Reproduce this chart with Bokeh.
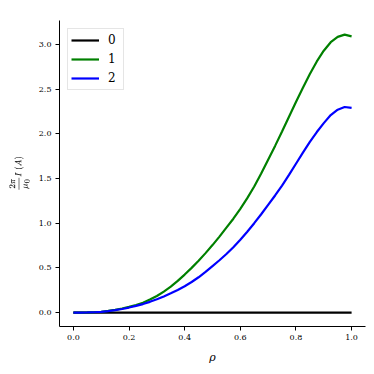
from bokeh.plotting import figure
from bokeh.models import Range1d, FixedTicker, Label, Legend, LegendItem
from bokeh.embed import file_html
from bokeh.resources import INLINE

rho = [0.0, 0.025, 0.05, 0.075, 0.1, 0.125, 0.15, 0.175, 0.2, 0.225, 0.25, 0.275,
       0.3, 0.325, 0.35, 0.375, 0.4, 0.425, 0.45, 0.475, 0.5, 0.525, 0.55, 0.575,
       0.6, 0.625, 0.65, 0.675, 0.7, 0.725, 0.75, 0.775, 0.8, 0.825, 0.85, 0.875,
       0.9, 0.925, 0.95, 0.975, 1.0]
series_0 = [0.0] * len(rho)
# values in units of 1e6
series_1 = [0.0, 0.0003, 0.0015, 0.004, 0.009, 0.018, 0.03, 0.045, 0.063, 0.085,
            0.11, 0.145, 0.185, 0.235, 0.29, 0.355, 0.425, 0.50, 0.58, 0.665,
            0.755, 0.85, 0.95, 1.05, 1.16, 1.28, 1.41, 1.555, 1.71, 1.865,
            2.025, 2.19, 2.355, 2.515, 2.67, 2.81, 2.93, 3.025, 3.085, 3.11, 3.09]
series_2 = [0.0, 0.0003, 0.0013, 0.0035, 0.008, 0.016, 0.027, 0.04, 0.056, 0.075,
            0.095, 0.12, 0.148, 0.18, 0.215, 0.253, 0.295, 0.342, 0.395, 0.455,
            0.52, 0.585, 0.655, 0.73, 0.815, 0.905, 1.0, 1.10, 1.205, 1.31,
            1.42, 1.54, 1.665, 1.79, 1.91, 2.02, 2.12, 2.21, 2.27, 2.30, 2.29]
scale = 1e6
labels = ["0", "1", "2"]
colors = ["black", "#008000", "#0000ff"]
y_ticks = [0.0, 0.5, 1.0, 1.5, 2.0, 2.5, 3.0]
x_ticks = [0.0, 0.2, 0.4, 0.6, 0.8, 1.0]

FONT = "DejaVu Serif"

p = figure(output_backend="svg", toolbar_location=None,
           width=366, height=366,
           x_range=Range1d(-0.05, 1.05), y_range=Range1d(-0.156e6, 3.268e6),
           min_border_left=59, min_border_right=1, min_border_top=20, min_border_bottom=39)
p.outline_line_color = None
p.xgrid.visible = False
p.ygrid.visible = False

renderers = []
for ys, c in zip([series_0, series_1, series_2], colors):
    r = p.line(rho, [v * scale for v in ys], line_color=c, line_width=2.2)
    renderers.append(r)

legend = Legend(items=[LegendItem(label=l, renderers=[r]) for l, r in zip(labels, renderers)],
                location="top_left")
legend.label_text_font = FONT
legend.label_text_font_size = "12px"
legend.label_text_color = "black"
legend.glyph_width = 28
legend.glyph_height = 16
legend.label_height = 16
legend.label_width = 12
legend.spacing = 3
legend.padding = 3
legend.margin = 8
legend.label_standoff = 9
legend.border_line_color = "#cccccc"
legend.border_line_width = 1
legend.background_fill_alpha = 0.8
p.add_layout(legend)

for ax in (p.xaxis[0], p.yaxis[0]):
    ax.major_label_text_font = FONT
    ax.major_label_text_font_size = "8px"
    ax.major_label_text_color = "black"
    ax.major_label_standoff = 4
    ax.axis_label_text_font = FONT
    ax.axis_label_text_font_style = "normal"
    ax.axis_label_text_color = "black"
    ax.minor_tick_line_color = None
    ax.major_tick_out = 4
    ax.major_tick_in = 0
    ax.axis_line_width = 1
    ax.major_tick_line_width = 1

p.xaxis.ticker = FixedTicker(ticks=x_ticks)
p.xaxis.major_label_overrides = {t: f"{t:.1f}" for t in x_ticks}
p.xaxis.axis_label = "ρ"
p.xaxis.axis_label_text_font_style = "italic"
p.xaxis.axis_label_text_font_size = "11px"
p.xaxis.axis_label_standoff = 8

p.yaxis.ticker = FixedTicker(ticks=[t * scale for t in y_ticks])
p.yaxis.major_label_overrides = {t * scale: f"{t:.1f}" for t in y_ticks}
p.yaxis.axis_label = r"$$\frac{2\pi}{\mu_0} I\ (A)$$"
p.yaxis.axis_label_text_font_size = "8px"
p.yaxis.axis_label_standoff = 6

p.add_layout(Label(x=-0.05, y=3.268e6, text="1e6", y_offset=3,
                   text_font=FONT, text_font_size="8px", text_baseline="bottom",
                   text_color="black"))

open("out.html", "w").write(file_html(p, INLINE))
